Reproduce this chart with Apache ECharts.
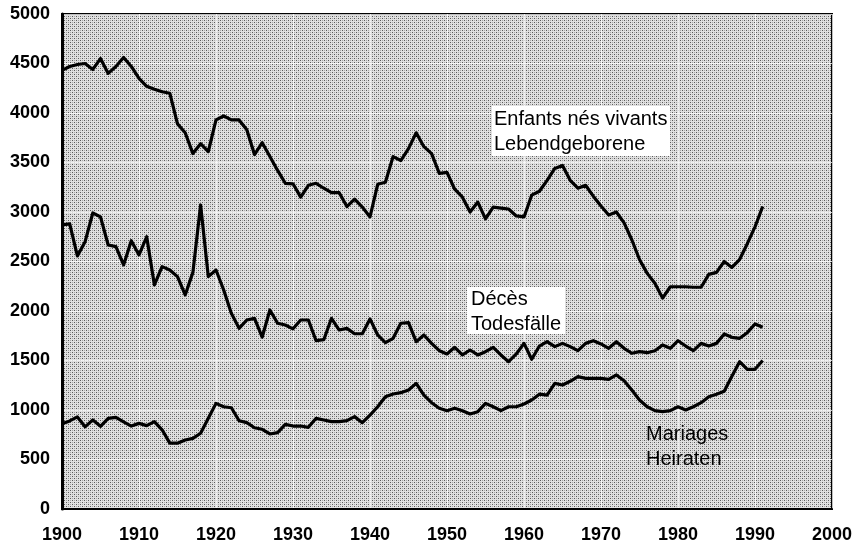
<!DOCTYPE html>
<html>
<head>
<meta charset="utf-8">
<script src="https://cdn.jsdelivr.net/npm/echarts@6/dist/echarts.min.js"></script>
<style>
html,body{margin:0;padding:0;background:#fff;}
#chart{width:856px;height:544px;}
</style>
</head>
<body>
<div id="chart"></div>
<script>
// Years 1900..1991
const startYear = 1900;
const endYear = 1991;
const years = [];
for (let y = startYear; y <= endYear; y++) years.push(y);

// Enfants nés vivants / Lebendgeborene
const births = [
  4430,4470,4490,4500,4440,4550,4400,4470,4560,4470,
  4350,4270,4240,4215,4200,3890,3800,3590,3690,3610,
  3930,3970,3930,3930,3830,3580,3700,3560,3420,3290,
  3285,3150,3270,3290,3240,3195,3195,3055,3130,3050,
  2950,3280,3300,3560,3520,3640,3800,3660,3590,3390,
  3400,3230,3150,3000,3100,2930,3050,3040,3030,2960,
  2950,3170,3210,3320,3440,3470,3320,3240,3270,3160,
  3060,2970,3000,2890,2720,2520,2380,2280,2130,2245,
  2245,2245,2240,2240,2370,2390,2500,2440,2520,2680,
  2850,3055
];

// Décès / Todesfälle
const deaths = [
  2870,2880,2556,2700,2990,2950,2667,2650,2465,2710,
  2566,2750,2263,2448,2414,2347,2162,2390,3071,2347,
  2414,2212,1976,1825,1909,1926,1737,2010,1876,1859,
  1820,1909,1909,1700,1710,1926,1808,1825,1770,1770,
  1920,1758,1680,1724,1876,1882,1690,1758,1673,1599,
  1566,1633,1556,1606,1556,1589,1633,1556,1488,1566,
  1673,1512,1646,1690,1640,1673,1640,1599,1673,1700,
  1667,1623,1690,1623,1573,1589,1579,1599,1657,1623,
  1700,1646,1599,1673,1646,1673,1768,1734,1724,1781,
  1869,1835
];

// Mariages / Heiraten
const marriages = [
  860,890,930,830,900,835,915,925,880,838,
  865,842,882,800,665,665,697,714,765,916,
  1067,1033,1023,892,872,821,805,758,771,855,
  838,838,825,916,899,882,882,892,933,872,
  949,1033,1134,1162,1175,1202,1269,1151,1074,1017,
  993,1017,993,960,983,1067,1033,993,1033,1033,
  1061,1101,1160,1150,1269,1252,1290,1337,1320,1320,
  1320,1310,1354,1296,1202,1101,1033,993,983,993,
  1033,1000,1033,1074,1134,1160,1190,1340,1488,1411,
  1411,1500
];

const yTicks = [0,500,1000,1500,2000,2500,3000,3500,4000,4500,5000];
const xTicks = [1900,1910,1920,1930,1940,1950,1960,1970,1980,1990,2000];

const labelBirths = ['Enfants nés vivants', 'Lebendgeborene'];
const labelDeaths = ['Décès', 'Todesfälle'];
const labelMarriages = ['Mariages', 'Heiraten'];

function pairs(vals){ return years.map((y,i)=>[y, vals[i]]); }

// stipple pattern
const pc = document.createElement('canvas');
pc.width = 4; pc.height = 4;
const pctx = pc.getContext('2d');
pctx.fillStyle = '#e0e0e0';
pctx.fillRect(0,0,4,4);
pctx.fillStyle = '#5a5a5a';
pctx.fillRect(0,0,1,1);
pctx.fillRect(2,2,1,1);
pctx.fillStyle = '#a8a8a8';
pctx.fillRect(2,0,1,1);
pctx.fillRect(0,2,1,1);

const FONT = '"Liberation Sans", Arial, Helvetica, sans-serif';

const chart = echarts.init(document.getElementById('chart'), null, {renderer:'canvas'});

function lineSeries(name, vals){
  return {
    name: name, type: 'line', data: pairs(vals), symbol: 'none',
    lineStyle: {color:'#000', width:3.2, join:'round'},
    itemStyle: {color:'#000'},
    z: 5
  };
}

function textEl(str, x, y){
  return {type:'text', x:x, y:y, z:100,
    style:{text:str, fill:'#000', fontSize:20, fontFamily:FONT, fontWeight:'normal',
      align:'left', verticalAlign:'middle'}};
}

chart.setOption({
  animation: false,
  backgroundColor: '#fff',
  grid: {left:62, right:24, top:14, bottom:35, show:true,
    backgroundColor: {image: pc, repeat: 'repeat'},
    borderColor:'#000', borderWidth:2},
  xAxis: {
    type:'value', min:1900, max:2000, interval:10,
    axisLine:{show:true, lineStyle:{color:'#000', width:2}},
    axisTick:{show:false},
    axisLabel:{color:'#000', fontSize:18, fontWeight:'bold', fontFamily:FONT, margin:17,
      formatter: v => xTicks.includes(v) ? String(v) : ''},
    splitLine:{show:true, lineStyle:{color:'rgba(255,255,255,0.75)', width:1}}
  },
  yAxis: {
    type:'value', min:0, max:5000, interval:500,
    axisLine:{show:true, lineStyle:{color:'#000', width:3}},
    axisTick:{show:false},
    axisLabel:{color:'#000', fontSize:18, fontWeight:'bold', fontFamily:FONT, margin:12,
      formatter: v => yTicks.includes(v) ? String(v) : ''},
    splitLine:{show:true, lineStyle:{color:'rgba(255,255,255,0.75)', width:1}}
  },
  series: [
    lineSeries('Enfants nés vivants', births),
    lineSeries('Décès', deaths),
    lineSeries('Mariages', marriages)
  ],
  graphic: [
    {type:'rect', shape:{x:492, y:106, width:178, height:50}, style:{fill:'#fff'}, z:90},
    textEl(labelBirths[0], 494, 119),
    textEl(labelBirths[1], 494, 144),
    {type:'rect', shape:{x:467, y:287, width:98, height:47}, style:{fill:'#fff'}, z:90},
    textEl(labelDeaths[0], 471, 299),
    textEl(labelDeaths[1], 471, 324),
    textEl(labelMarriages[0], 646, 434),
    textEl(labelMarriages[1], 646, 459)
  ]
});
</script>
</body>
</html>
